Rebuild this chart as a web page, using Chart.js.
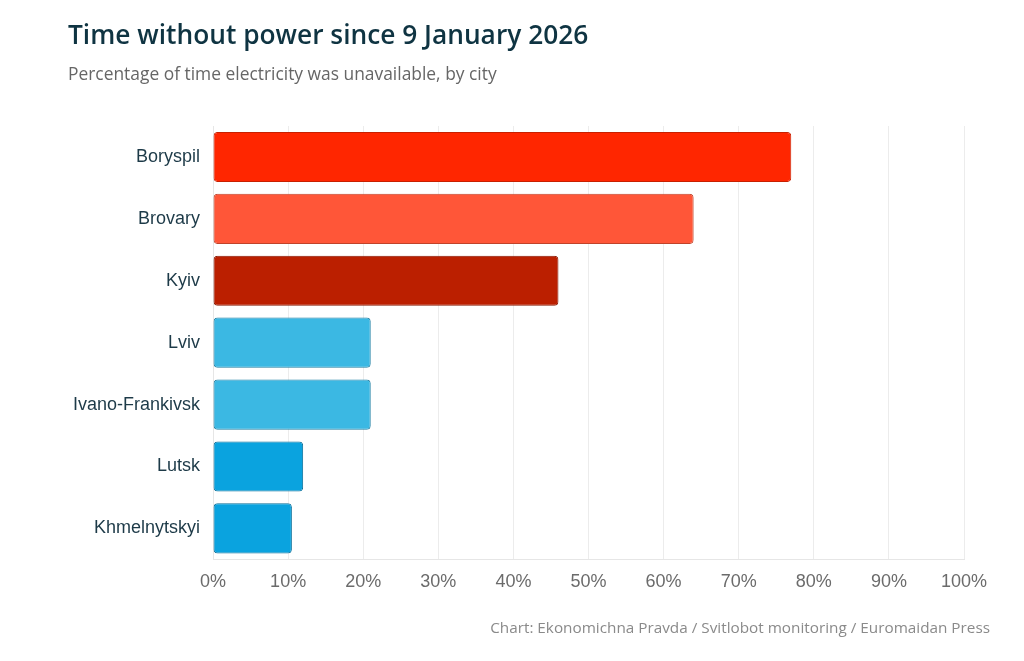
<!DOCTYPE html>
<html>
<head>
<meta charset="utf-8">
<script src="https://cdn.jsdelivr.net/npm/chart.js@4"></script>
<style>
  html, body { margin: 0; padding: 0; background: #fff; width: 1024px; height: 661px; overflow: hidden; }
  #wrap { position: relative; width: 1024px; height: 661px; }
  canvas { position: absolute; left: 0; top: 0; }
  .t { position: absolute; font-family: "Open Sans", sans-serif; white-space: nowrap; }
  #title { left: 68px; top: 16px; font-size: 26.3px; font-weight: 600; color: #0f3442; }
  #sub { left: 68px; top: 61px; font-size: 17.4px; color: #666; }
  #foot { right: 34px; top: 617px; font-size: 15.3px; color: #8a8a8a; }
</style>
</head>
<body>
<div id="wrap">
  <canvas id="c" width="1024" height="661"></canvas>
  <div class="t" id="title">Time without power since 9 January 2026</div>
  <div class="t" id="sub">Percentage of time electricity was unavailable, by city</div>
  <div class="t" id="foot">Chart: Ekonomichna Pravda / Svitlobot monitoring / Euromaidan Press</div>
</div>
<script>
const cities = ["Boryspil", "Brovary", "Kyiv", "Lviv", "Ivano-Frankivsk", "Lutsk", "Khmelnytskyi"];
const outagePct = [77, 64, 46, 21, 21, 12, 10.5];
const barColors = ["#ff2600", "#ff5638", "#bb1f00", "#3bb8e3", "#3bb8e3", "#0aa3df", "#0aa3df"];
const barBorders = ["#c82000", "#c0432a", "#881700", "#1f7fa3", "#1f7fa3", "#0a6f9a", "#0a6f9a"];
const xTicks = [0, 10, 20, 30, 40, 50, 60, 70, 80, 90, 100];

new Chart(document.getElementById("c"), {
  type: "bar",
  data: {
    labels: cities,
    datasets: [{
      data: outagePct,
      backgroundColor: barColors,
      borderColor: barBorders,
      borderWidth: 1,
      borderRadius: 4,
      borderSkipped: false,
      barPercentage: 0.9,
      categoryPercentage: 0.9
    }]
  },
  options: {
    indexAxis: "y",
    responsive: false,
    animation: false,
    devicePixelRatio: 1,
    layout: { padding: { left: 60, top: 126, right: 60, bottom: 56 } },
    plugins: { legend: { display: false }, tooltip: { enabled: false } },
    scales: {
      x: {
        min: 0, max: 100,
        afterBuildTicks: (s) => { s.ticks = xTicks.map(v => ({ value: v })); },
        ticks: { callback: v => v + "%", color: "#6b6b6b", font: { size: 18, family: "Liberation Sans, Arial, sans-serif" }, padding: 12 },
        grid: { color: "#ececec", drawTicks: false },
        border: { color: "#e6e6e6" }
      },
      y: {
        ticks: { color: "#1d3a48", font: { size: 18, family: "Liberation Sans, Arial, sans-serif" }, padding: 13 },
        grid: { display: false, drawTicks: false },
        border: { color: "#e6e6e6" }
      }
    }
  }
});
</script>
</body>
</html>
